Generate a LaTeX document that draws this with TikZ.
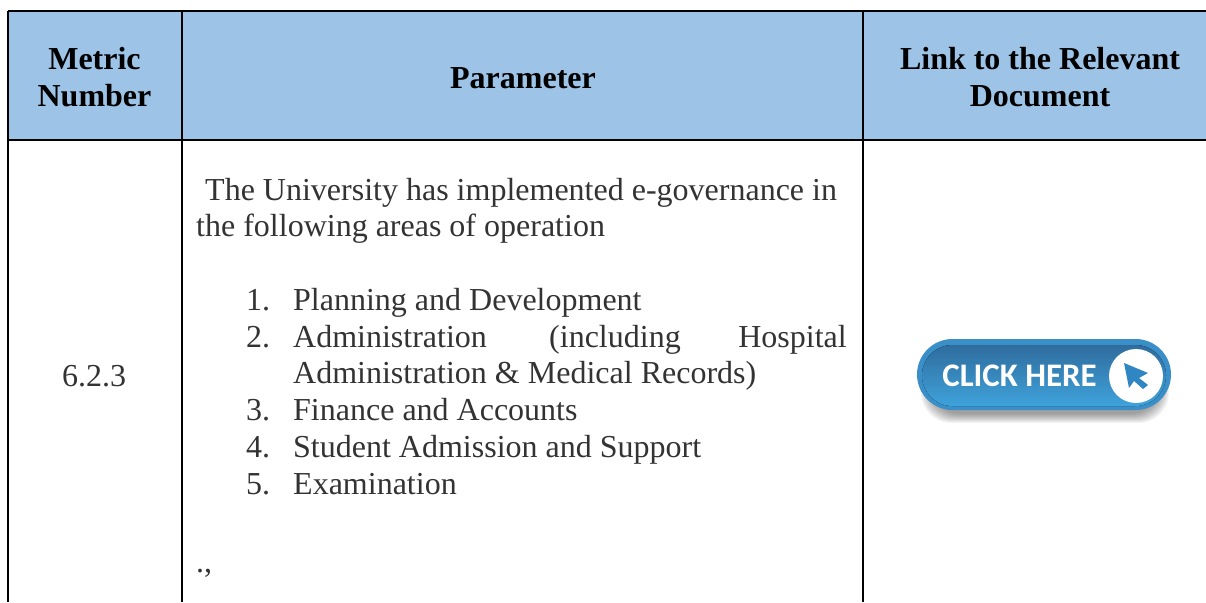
\documentclass[tikz,border=0pt]{standalone}
\usepackage{fontspec}
\setmainfont{Liberation Serif}
\setsansfont{Carlito}
\definecolor{headblue}{HTML}{9DC3E6}
\definecolor{txt}{HTML}{333333}
\definecolor{btnedge}{HTML}{3A8FC9}
\definecolor{btntop}{HTML}{2F6C9E}
\definecolor{btnbot}{HTML}{3FA3DB}
\definecolor{curs}{HTML}{2F86C2}
\tikzset{
  rule/.style={line width=2pt,black},
  hd/.style={font=\fontsize{32}{37}\selectfont\bfseries,align=center,text=black,inner sep=0pt},
  bd/.style={font=\fontsize{32}{36}\selectfont,text=txt,inner sep=0pt,anchor=base west},
}
\begin{document}
\begin{tikzpicture}[x=1pt,y=-1pt]
\useasboundingbox (0,0) rectangle (1206,602);
\fill[white] (0,0) rectangle (1206,602);
\fill[headblue] (8,11) rectangle (1206,140);
\coordinate (tl) at (8,11); \coordinate (tr) at (1206,11);
\coordinate (ml) at (8,140); \coordinate (mr) at (1206,140);
\coordinate (bl) at (8,602);
\coordinate (c1t) at (181.5,11); \coordinate (c1b) at (181.5,602);
\coordinate (c2t) at (863,11); \coordinate (c2b) at (863,602);
\draw[rule] (tl) -- (tr);
\draw[rule] (ml) -- (mr);
\draw[rule] (tl) -- (bl);
\draw[rule] (c1t) -- (c1b);
\draw[rule] (c2t) -- (c2b);
\node[hd] (h1) at (94.5,77) {Metric\\Number};
\node[hd] (h2) at (523,78) {Parameter};
\node[hd] (h3) at (1040,77) {Link to the Relevant\\Document};
\node[font=\fontsize{32}{36}\selectfont,text=txt,inner sep=0pt] (num) at (94,376) {6.2.3};
\node[bd] (p1) at (205,200) {The University has implemented e-governance in};
\node[bd] (p2) at (196,236.5) {the following areas of operation};
\node[bd] (n1) at (246,310) {1.};
\node[bd] (t1) at (293,310) {Planning and Development};
\node[bd] (n2) at (246,347) {2.};
\node[bd] (t2a) at (293,347) {Administration};
\node[bd] (t2b) at (549,347) {(including};
\node[bd,anchor=base east] (t2c) at (847,347) {Hospital};
\node[bd] (t2d) at (293,383.5) {Administration \& Medical Records)};
\node[bd] (n3) at (246,420) {3.};
\node[bd] (t3) at (293,420) {Finance and Accounts};
\node[bd] (n4) at (246,457) {4.};
\node[bd] (t4) at (293,457) {Student Admission and Support};
\node[bd] (n5) at (246,494) {5.};
\node[bd] (t5) at (293,494) {Examination};
\node[bd] (dots) at (196,572) {.,};
\foreach \i in {9,8,...,0}{
  \fill[black,opacity=.045,rounded corners=30pt] (930-\i,362-\i) rectangle (1160+\i,414+\i);
}
\fill[btnedge,rounded corners=35.5pt] (917,339) rectangle (1171,410);
\fill[top color=btntop,bottom color=btnbot,rounded corners=30.5pt] (922,345) rectangle (1166,406);
\node[font=\fontsize{32.9}{33}\selectfont\sffamily\bfseries,text=white,inner sep=0pt] (btn) at (1019.5,375.5) {CLICK HERE};
\node[circle,fill=white,minimum size=54pt,inner sep=0pt] (circ) at (1136,376) {};
\fill[curs] (1124,363) -- (1148,373) -- (1139,378) -- (1148,385) -- (1143,389) -- (1134,381) -- (1129,388) -- cycle;
\end{tikzpicture}
\end{document}
